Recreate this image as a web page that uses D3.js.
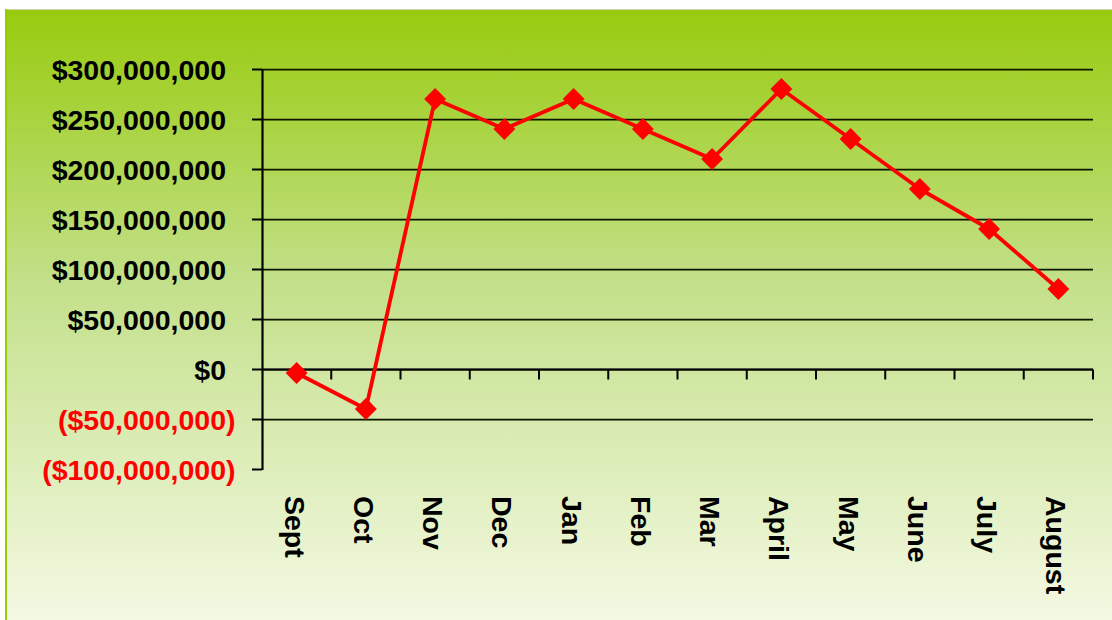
<!DOCTYPE html>
<html>
<head>
<meta charset="utf-8">
<script src="https://cdn.jsdelivr.net/npm/d3@7"></script>
<style>
  html, body { margin: 0; padding: 0; background: #ffffff; }
  svg { display: block; }
</style>
</head>
<body>
<svg id="chart" width="1112" height="620"></svg>
<script>
// ---- data ----
const months = ["Sept", "Oct", "Nov", "Dec", "Jan", "Feb", "Mar", "April", "May", "June", "July", "August"];
const values = [-4000000, -40000000, 270000000, 240000000, 270000000, 240000000, 210000000, 280000000, 230000000, 180000000, 140000000, 80000000];
const yTicks = [300000000, 250000000, 200000000, 150000000, 100000000, 50000000, 0, -50000000, -100000000];

// ---- layout ----
const W = 1112, H = 620;
const panel = { x: 5, y: 9 };
const plot = { left: 262, right: 1093, top: 69, bottom: 469 };

const svg = d3.select("#chart");
const defs = svg.append("defs");
const grad = defs.append("linearGradient").attr("id", "bg").attr("x1", 0).attr("y1", 0).attr("x2", 0).attr("y2", 1);
grad.append("stop").attr("offset", "0%").attr("stop-color", "#98cb0e");
grad.append("stop").attr("offset", "45%").attr("stop-color", "#c3e08a");
grad.append("stop").attr("offset", "100%").attr("stop-color", "#f4f9e3");

svg.append("rect").attr("x", panel.x).attr("y", panel.y).attr("width", W - panel.x).attr("height", H - panel.y)
  .attr("fill", "url(#bg)");
svg.append("line").attr("x1", panel.x).attr("x2", W).attr("y1", panel.y + 0.5).attr("y2", panel.y + 0.5)
  .attr("stroke", "#c8d8b0").attr("stroke-width", 1);
svg.append("rect").attr("x", panel.x).attr("y", panel.y).attr("width", 2).attr("height", H - panel.y)
  .attr("fill", "#99cc00");

const x = d3.scaleBand().domain(months).range([plot.left, plot.right]).padding(0);
const y = d3.scaleLinear().domain([-100000000, 300000000]).range([plot.bottom, plot.top]);

const fmt = v => v < 0 ? "($" + d3.format(",")(-v) + ")" : "$" + d3.format(",")(v);

// gridlines
const grid = svg.append("g");
yTicks.filter(v => v !== -100000000).forEach(v => {
  const yy = Math.round(y(v));
  grid.append("line").attr("x1", plot.left).attr("x2", plot.right).attr("y1", yy + 1.5).attr("y2", yy + 1.5)
    .attr("stroke", "#2f4a00").attr("stroke-opacity", 0.45).attr("stroke-width", 1);
  grid.append("line").attr("x1", plot.left).attr("x2", plot.right).attr("y1", yy + 0.5).attr("y2", yy + 0.5)
    .attr("stroke", "#0d1500").attr("stroke-width", 1.3);
});

// y axis
const fs = 28.5;
const yAxis = d3.axisLeft(y).tickValues(yTicks).tickSize(10).tickPadding(0).tickFormat(fmt);
const gy = svg.append("g").attr("transform", `translate(${plot.left},0)`).call(yAxis);
gy.select(".domain").attr("stroke", "#000").attr("stroke-width", 2.2).attr("d", `M0.5,${plot.top}V${plot.bottom + 1}`);
gy.selectAll(".tick line").attr("stroke", "#000").attr("stroke-width", 2);
gy.selectAll(".tick text")
  .attr("font-family", "Liberation Sans, Arial, sans-serif")
  .attr("font-weight", "bold")
  .attr("font-size", fs)
  .attr("x", d => d < 0 ? -36 + 0.333 * fs : -36)
  .attr("dy", "0.36em")
  .attr("fill", d => d < 0 ? "#ff0000" : "#000000");

// zero axis with band ticks
const zeroY = Math.round(y(0)) + 0.5;
svg.append("line").attr("x1", plot.left).attr("x2", plot.right).attr("y1", zeroY).attr("y2", zeroY)
  .attr("stroke", "#000").attr("stroke-width", 2);
const xAxis = d3.axisBottom(x).tickSize(0).tickFormat("");
const gx = svg.append("g").attr("transform", `translate(0,${zeroY})`).call(xAxis);
gx.select(".domain").remove();
months.slice(1).concat(["__end"]).forEach(m => {
  const bx = m === "__end" ? plot.right : x(m);
  gx.append("line").attr("x1", bx).attr("x2", bx).attr("y1", 0).attr("y2", 10)
    .attr("stroke", "#000").attr("stroke-width", 2);
});

// x labels
const labels = svg.append("g");
months.forEach(m => {
  labels.append("text")
    .attr("transform", `translate(${x(m) + x.bandwidth() / 2},496) rotate(90)`)
    .attr("dy", "0.42em")
    .attr("text-anchor", "start")
    .attr("font-family", "Liberation Sans, Arial, sans-serif")
    .attr("font-weight", "bold")
    .attr("font-size", fs)
    .attr("fill", "#000")
    .text(m);
});

// line
const line = d3.line().x((d, i) => x(months[i]) + x.bandwidth() / 2).y(d => y(d));
svg.append("path").datum(values).attr("d", line)
  .attr("fill", "none").attr("stroke", "#ff0000").attr("stroke-width", 3.8).attr("stroke-linejoin", "round");

const diamond = d3.symbol().type(d3.symbolSquare).size(240);
svg.append("g").selectAll("path").data(values).join("path")
  .attr("d", diamond)
  .attr("transform", (d, i) => `translate(${x(months[i]) + x.bandwidth() / 2},${y(d)}) rotate(45)`)
  .attr("fill", "#ff0000");
</script>
</body>
</html>
